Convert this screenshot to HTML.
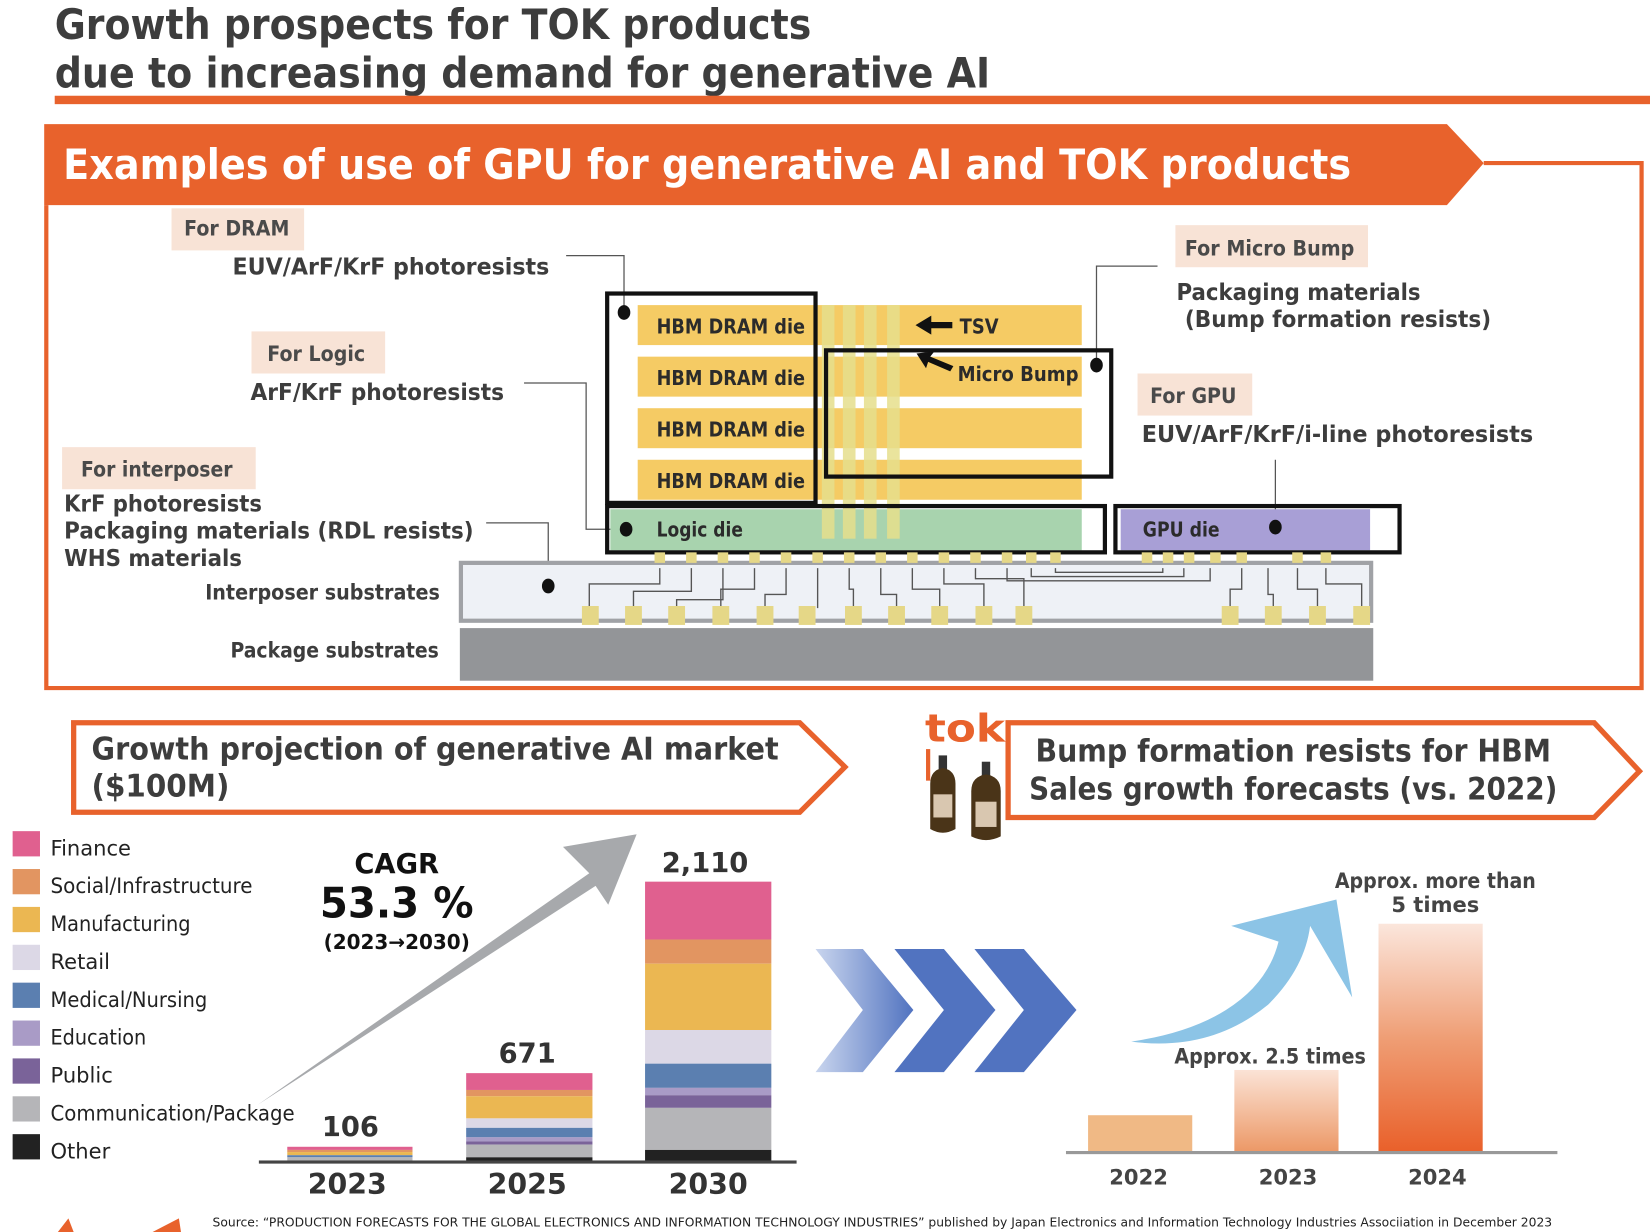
<!DOCTYPE html>
<html><head><meta charset="utf-8"><style>
html,body{margin:0;padding:0;background:#fff;width:1650px;height:1232px;overflow:hidden}
svg{display:block}
text{font-family:"DejaVu Sans","Liberation Sans",sans-serif}
.b{font-weight:bold}
</style></head><body>
<svg width="1650" height="1232" viewBox="0 0 1568 1171" preserveAspectRatio="none" xmlns="http://www.w3.org/2000/svg">
<defs>
<linearGradient id="ch1" x1="0" x2="1" y1="0" y2="0"><stop offset="0" stop-color="#c9d5ee"/><stop offset="1" stop-color="#5173c0"/></linearGradient>
<linearGradient id="b23" x1="0" x2="0" y1="0" y2="1"><stop offset="0" stop-color="#fbe3d6"/><stop offset="1" stop-color="#ec9866"/></linearGradient>
<linearGradient id="b24" x1="0" x2="0" y1="0" y2="1"><stop offset="0" stop-color="#fbe6dc"/><stop offset="0.5" stop-color="#ef9e75"/><stop offset="1" stop-color="#e9602a"/></linearGradient>
</defs>
<text x="52" y="37" font-size="40" class="b" fill="#3d3d3d" textLength="719" lengthAdjust="spacingAndGlyphs">Growth prospects for TOK products</text>
<text x="52" y="83" font-size="40" class="b" fill="#3d3d3d" textLength="889" lengthAdjust="spacingAndGlyphs">due to increasing demand for generative AI</text>
<rect x="52" y="91" width="1516" height="8" fill="#e8622c"/>
<polyline points="1410,155 1560,155 1560,654 44,654 44,195" fill="none" stroke="#e8622c" stroke-width="4"/>
<polygon points="42,118 1375,118 1410,155 1375,195 42,195" fill="#e8622c"/>
<text x="60" y="170" font-size="40" class="b" fill="#fff" textLength="1224" lengthAdjust="spacingAndGlyphs">Examples of use of GPU for generative AI and TOK products</text>
<g fill="#f8e3d6"><rect x="163" y="198" width="126" height="40"/><rect x="239" y="315" width="127" height="40"/><rect x="59" y="425" width="184" height="40"/><rect x="1117" y="214" width="183" height="40"/><rect x="1081" y="355" width="109" height="40"/></g>
<g font-size="20" class="b" fill="#4a4a4a">
<text x="175" y="224" textLength="100" lengthAdjust="spacingAndGlyphs">For DRAM</text><text x="254" y="343" textLength="93" lengthAdjust="spacingAndGlyphs">For Logic</text><text x="77" y="453" textLength="144" lengthAdjust="spacingAndGlyphs">For interposer</text><text x="1126" y="243" textLength="161" lengthAdjust="spacingAndGlyphs">For Micro Bump</text><text x="1093" y="383" textLength="82" lengthAdjust="spacingAndGlyphs">For GPU</text>
</g>
<g font-size="22" class="b" fill="#3d3d3d">
<text x="221" y="261" textLength="301" lengthAdjust="spacingAndGlyphs">EUV/ArF/KrF photoresists</text>
<text x="238" y="380" textLength="241" lengthAdjust="spacingAndGlyphs">ArF/KrF photoresists</text>
<text x="61" y="486" textLength="188" lengthAdjust="spacingAndGlyphs">KrF photoresists</text>
<text x="61" y="512" textLength="389" lengthAdjust="spacingAndGlyphs">Packaging materials (RDL resists)</text>
<text x="61" y="538" textLength="169" lengthAdjust="spacingAndGlyphs">WHS materials</text>
<text x="1118" y="285" textLength="232" lengthAdjust="spacingAndGlyphs">Packaging materials</text>
<text x="1126" y="311" textLength="291" lengthAdjust="spacingAndGlyphs">(Bump formation resists)</text>
<text x="1085" y="420" textLength="372" lengthAdjust="spacingAndGlyphs">EUV/ArF/KrF/i-line photoresists</text>
</g>
<g font-size="20" class="b" fill="#3d3d3d">
<text x="195" y="570" textLength="223" lengthAdjust="spacingAndGlyphs">Interposer substrates</text>
<text x="219" y="625" textLength="198" lengthAdjust="spacingAndGlyphs">Package substrates</text>
</g>
<g fill="none" stroke="#555" stroke-width="1.2">
<polyline points="538,243 593,243 593,297"/><polyline points="498,364 557,364 557,503 595,503"/><polyline points="462,497 521,497 521,557"/><polyline points="1100,253 1042,253 1042,347"/><line x1="1212" y1="437" x2="1212" y2="501"/>
</g>
<g fill="#f5cb64"><rect x="606" y="290" width="422" height="38"/><rect x="606" y="339" width="422" height="38"/><rect x="606" y="388" width="422" height="38"/><rect x="606" y="437" width="422" height="38"/></g>
<rect x="580" y="484" width="448" height="39" fill="#a8d3ae"/>
<rect x="1065" y="484" width="237" height="39" fill="#a89fd6"/>
<g fill="#e6df8c" opacity="0.85"><rect x="781" y="290" width="12" height="222"/><rect x="801" y="290" width="12" height="222"/><rect x="821" y="290" width="12" height="222"/><rect x="843" y="290" width="12" height="222"/></g>
<g fill="none" stroke="#111" stroke-width="4">
<rect x="577" y="279" width="198" height="199"/><rect x="785" y="333" width="271" height="120"/><rect x="577" y="481" width="473" height="44"/><rect x="1060" y="481" width="270" height="44"/>
</g>
<g font-size="19" class="b" fill="#2b2b2b">
<text x="624" y="317" textLength="141" lengthAdjust="spacingAndGlyphs">HBM DRAM die</text><text x="624" y="366" textLength="141" lengthAdjust="spacingAndGlyphs">HBM DRAM die</text><text x="624" y="415" textLength="141" lengthAdjust="spacingAndGlyphs">HBM DRAM die</text><text x="624" y="464" textLength="141" lengthAdjust="spacingAndGlyphs">HBM DRAM die</text>
<text x="624" y="510" textLength="82" lengthAdjust="spacingAndGlyphs">Logic die</text><text x="1086" y="510" textLength="73" lengthAdjust="spacingAndGlyphs">GPU die</text><text x="912" y="317" textLength="37" lengthAdjust="spacingAndGlyphs">TSV</text><text x="910" y="362" textLength="115" lengthAdjust="spacingAndGlyphs">Micro Bump</text>
</g>
<polygon points="870,309 885,300 885,306 905,306 905,312 885,312 885,318" fill="#111"/>
<polygon points="871,336 888,334 884,339 906,348 903,353 882,344 880,350" fill="#111"/>
<rect x="438" y="535" width="865" height="55" fill="#eef1f6" stroke="#a0a2a6" stroke-width="4"/>
<g fill="#e5d787">
<rect x="622" y="525" width="10" height="10"/><rect x="652" y="525" width="10" height="10"/><rect x="682" y="525" width="10" height="10"/><rect x="712" y="525" width="10" height="10"/><rect x="742" y="525" width="10" height="10"/><rect x="772" y="525" width="10" height="10"/><rect x="802" y="525" width="10" height="10"/><rect x="832" y="525" width="10" height="10"/><rect x="862" y="525" width="10" height="10"/><rect x="892" y="525" width="10" height="10"/><rect x="922" y="525" width="10" height="10"/><rect x="952" y="525" width="10" height="10"/><rect x="975" y="525" width="10" height="10"/><rect x="998" y="525" width="10" height="10"/><rect x="1085" y="525" width="10" height="10"/><rect x="1105" y="525" width="10" height="10"/><rect x="1125" y="525" width="10" height="10"/><rect x="1150" y="525" width="10" height="10"/><rect x="1175" y="525" width="10" height="10"/><rect x="1228" y="525" width="10" height="10"/><rect x="1255" y="525" width="10" height="10"/>
</g>
<g fill="none" stroke="#555" stroke-width="1.3">
<polyline points="627,540 627,555 560,555 560,578"/><polyline points="657,540 657,562 602,562 602,578"/><polyline points="687,540 687,570 643,570 643,578"/><polyline points="717,540 717,560 685,560 685,578"/><polyline points="747,540 747,565 727,565 727,578"/><polyline points="777,540 777,578"/><polyline points="807,540 807,560 811,560 811,578"/><polyline points="837,540 837,565 852,565 852,578"/><polyline points="867,540 867,560 893,560 893,578"/><polyline points="897,540 897,555 935,555 935,578"/><polyline points="927,540 927,550 973,550 973,578"/>
<polyline points="957,540 957,552 1150,552 1150,540"/><polyline points="980,540 980,548 1125,548 1125,540"/><polyline points="1003,540 1003,544 1105,544 1105,540"/>
<polyline points="1180,540 1180,560 1169,560 1169,578"/><polyline points="1205,540 1205,565 1210,565 1210,578"/><polyline points="1233,540 1233,560 1252,560 1252,578"/><polyline points="1260,540 1260,555 1294,555 1294,578"/>
</g>
<g fill="#e5d787">
<rect x="553" y="576" width="16" height="18"/><rect x="594" y="576" width="16" height="18"/><rect x="635" y="576" width="16" height="18"/><rect x="677" y="576" width="16" height="18"/><rect x="719" y="576" width="16" height="18"/><rect x="759" y="576" width="16" height="18"/><rect x="803" y="576" width="16" height="18"/><rect x="844" y="576" width="16" height="18"/><rect x="885" y="576" width="16" height="18"/><rect x="927" y="576" width="16" height="18"/><rect x="965" y="576" width="16" height="18"/><rect x="1161" y="576" width="16" height="18"/><rect x="1202" y="576" width="16" height="18"/><rect x="1244" y="576" width="16" height="18"/><rect x="1286" y="576" width="16" height="18"/>
</g>
<rect x="437" y="597" width="868" height="50" fill="#939598"/>
<g fill="#111"><ellipse cx="593" cy="297" rx="6" ry="7"/><ellipse cx="595" cy="503" rx="6" ry="7"/><ellipse cx="521" cy="557" rx="6" ry="7"/><ellipse cx="1042" cy="347" rx="6" ry="7"/><ellipse cx="1212" cy="501" rx="6" ry="7"/></g>
<polygon points="70,687 760,687 803,729 760,772 70,772" fill="#fff" stroke="#e8622c" stroke-width="5"/>
<g font-size="30" class="b" fill="#3d3d3d">
<text x="87" y="722" textLength="653" lengthAdjust="spacingAndGlyphs">Growth projection of generative AI market</text>
<text x="87" y="757" textLength="131" lengthAdjust="spacingAndGlyphs">($100M)</text>
</g>
<g>
<rect x="12" y="790" width="26" height="24" fill="#e0608f"/><rect x="12" y="826" width="26" height="24" fill="#e29561"/><rect x="12" y="862" width="26" height="24" fill="#ebb752"/><rect x="12" y="898" width="26" height="24" fill="#dcd8e6"/><rect x="12" y="934" width="26" height="24" fill="#5b7fb0"/><rect x="12" y="970" width="26" height="24" fill="#a99bc6"/><rect x="12" y="1006" width="26" height="24" fill="#7a6399"/><rect x="12" y="1042" width="26" height="24" fill="#b5b5b8"/><rect x="12" y="1078" width="26" height="24" fill="#222"/>
</g>
<g font-size="20" fill="#222">
<text x="48" y="813">Finance</text><text x="48" y="849" textLength="192" lengthAdjust="spacingAndGlyphs">Social/Infrastructure</text><text x="48" y="885" textLength="133" lengthAdjust="spacingAndGlyphs">Manufacturing</text><text x="48" y="921">Retail</text><text x="48" y="957" textLength="149" lengthAdjust="spacingAndGlyphs">Medical/Nursing</text><text x="48" y="993" textLength="91" lengthAdjust="spacingAndGlyphs">Education</text><text x="48" y="1029">Public</text><text x="48" y="1065" textLength="232" lengthAdjust="spacingAndGlyphs">Communication/Package</text><text x="48" y="1101">Other</text>
</g>
<polygon points="245,1050 560,830 535,805 605,793 578,860 566,842" fill="#a7a9ac"/>
<g class="b" fill="#111" text-anchor="middle">
<text x="377" y="830" font-size="26">CAGR</text><text x="377" y="872" font-size="40" textLength="146" lengthAdjust="spacingAndGlyphs">53.3 %</text><text x="377" y="902" font-size="19">(2023→2030)</text>
<text x="333" y="1080" font-size="26" fill="#333">106</text><text x="501" y="1010" font-size="26" fill="#333">671</text><text x="670" y="829" font-size="26" fill="#333">2,110</text>
<text x="330" y="1135" font-size="27" fill="#333">2023</text><text x="501" y="1135" font-size="27" fill="#333">2025</text><text x="673" y="1135" font-size="27" fill="#333">2030</text>
</g>
<g>
<rect x="273" y="1090" width="119" height="3" fill="#e0608f"/><rect x="273" y="1093" width="119" height="2" fill="#e29561"/><rect x="273" y="1095" width="119" height="3" fill="#ebb752"/><rect x="273" y="1098" width="119" height="2" fill="#5b7fb0"/><rect x="273" y="1100" width="119" height="3" fill="#b5b5b8"/>
<rect x="443" y="1020" width="120" height="16" fill="#e0608f"/><rect x="443" y="1036" width="120" height="6" fill="#e29561"/><rect x="443" y="1042" width="120" height="21" fill="#ebb752"/><rect x="443" y="1063" width="120" height="9" fill="#dcd8e6"/><rect x="443" y="1072" width="120" height="9" fill="#5b7fb0"/><rect x="443" y="1081" width="120" height="4" fill="#a99bc6"/><rect x="443" y="1085" width="120" height="3" fill="#7a6399"/><rect x="443" y="1088" width="120" height="12" fill="#b5b5b8"/><rect x="443" y="1100" width="120" height="4" fill="#222"/>
<rect x="613" y="838" width="120" height="55" fill="#e0608f"/><rect x="613" y="893" width="120" height="23" fill="#e29561"/><rect x="613" y="916" width="120" height="63" fill="#ebb752"/><rect x="613" y="979" width="120" height="32" fill="#dcd8e6"/><rect x="613" y="1011" width="120" height="23" fill="#5b7fb0"/><rect x="613" y="1034" width="120" height="7" fill="#a99bc6"/><rect x="613" y="1041" width="120" height="12" fill="#7a6399"/><rect x="613" y="1053" width="120" height="40" fill="#b5b5b8"/><rect x="613" y="1093" width="120" height="11" fill="#222"/>
</g>
<rect x="246" y="1103" width="511" height="3" fill="#444"/>
<polygon points="775,902 820,902 868,960 820,1019 775,1019 820,960" fill="url(#ch1)"/>
<polygon points="850,902 897,902 946,960 897,1019 850,1019 897,960" fill="#5173c0"/>
<polygon points="926,902 973,902 1023,960 973,1019 926,1019 973,960" fill="#5173c0"/>
<text x="879" y="705" font-size="36" class="b" fill="#e8622c" textLength="76" lengthAdjust="spacingAndGlyphs">tok</text>
<rect x="880" y="712" width="4" height="30" fill="#e8622c"/>
<g>
<rect x="892" y="718" width="8" height="14" fill="#333"/><path d="M884,745 Q884,732 896,730 Q908,732 908,745 L908,788 Q896,795 884,788Z" fill="#4a3418"/><rect x="887" y="755" width="18" height="22" fill="#d9c7b0"/>
<rect x="933" y="724" width="8" height="14" fill="#333"/><path d="M923,752 Q923,738 937,736 Q951,738 951,752 L951,795 Q937,802 923,795Z" fill="#4a3418"/><rect x="927" y="762" width="20" height="24" fill="#d9c7b0"/>
</g>
<polygon points="958,687 1515,687 1558,733 1515,777 958,777" fill="#fff" stroke="#e8622c" stroke-width="5"/>
<g font-size="30" class="b" fill="#3d3d3d" text-anchor="middle">
<text x="1229" y="724" textLength="490" lengthAdjust="spacingAndGlyphs">Bump formation resists for HBM</text>
<text x="1229" y="760" textLength="502" lengthAdjust="spacingAndGlyphs">Sales growth forecasts (vs. 2022)</text>
</g>
<rect x="1034" y="1060" width="99" height="35" fill="#f0b985"/>
<rect x="1173" y="1017" width="99" height="78" fill="url(#b23)"/>
<rect x="1310" y="878" width="99" height="217" fill="url(#b24)"/>
<rect x="1013" y="1094" width="467" height="3" fill="#999"/>
<path d="M1075,990 Q1150,1000 1205,955 Q1240,920 1245,880 L1285,948 L1270,855 L1170,880 L1215,895 Q1205,935 1165,960 Q1130,982 1075,990Z" fill="#8cc4e6"/>
<g font-size="20" class="b" fill="#444" text-anchor="middle">
<text x="1082" y="1126">2022</text><text x="1224" y="1126">2023</text><text x="1366" y="1126">2024</text>
<text x="1207" y="1011" textLength="182" lengthAdjust="spacingAndGlyphs">Approx. 2.5 times</text><text x="1364" y="844" textLength="191" lengthAdjust="spacingAndGlyphs">Approx. more than</text><text x="1364" y="867">5 times</text>
</g>
<text x="202" y="1166" font-size="12" fill="#222" textLength="1273" lengthAdjust="spacingAndGlyphs">Source: “PRODUCTION FORECASTS FOR THE GLOBAL ELECTRONICS AND INFORMATION TECHNOLOGY INDUSTRIES” published by Japan Electronics and Information Technology Industries Associiation in December 2023</text>
<polygon points="55,1171 65,1158 70,1171" fill="#e8622c"/><polygon points="145,1171 170,1158 172,1171" fill="#e8622c"/>
</svg>
</body></html>
